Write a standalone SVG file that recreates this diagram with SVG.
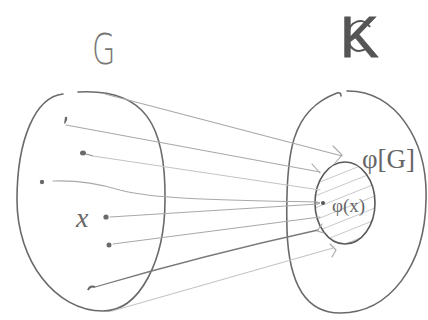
<svg xmlns="http://www.w3.org/2000/svg" width="428" height="320" viewBox="0 0 428 320">
<style>
.set{fill:none;stroke:#6a6a6a;stroke-width:1.6;stroke-linecap:round;stroke-linejoin:round}
.map{fill:none;stroke:#a8a8a8;stroke-width:1.1;stroke-linecap:round;stroke-linejoin:round}
.dark{stroke:#7a7a7a;stroke-width:1.3}
.faint{stroke:#c4c4c4}
.pt{fill:#6a6a6a}
.hand{font-family:"Liberation Serif",serif;fill:#666}
.hatch{stroke:#c8c8c8;stroke-width:1}
</style>
<defs>
<clipPath id="inner"><ellipse cx="345" cy="203" rx="30" ry="41"/></clipPath>
</defs>
<rect width="428" height="320" fill="#fff"/>

<g id="label-G"><text x="0" y="0" transform="translate(92,64) scale(0.72,1)" font-family="DejaVu Sans,sans-serif" font-weight="200" font-size="42" fill="#777">G</text></g>
<g id="label-K"><text x="340" y="57" font-family="Liberation Sans,sans-serif" font-size="58" fill="#555" stroke="#555" stroke-width="0.8">K</text>
<path d="M370,27 C363,16 349,21 348,35 C347,49 358,55 367,48" fill="none" stroke="#555" stroke-width="2"/></g>

<g id="set-G">
<path class="set" d="M78,92 C145,88 166,125 165,200 C165,260 140,311 103,311 C55,311 17,260 17,200 C17,140 35,97 63,94"/>
<path class="pt" d="M65,117 q3,-1 2,3 q-1,3 -3,4 z"/>
<path class="pt" d="M80,153 a3,2.5 0 1 1 6,0 a3,2.5 0 1 1 -6,0 z"/>
<path d="M86,154 L93,156" stroke="#888" stroke-width="1"/>
<circle class="pt" cx="42" cy="182" r="2.2"/>
<text class="hand" x="76" y="227" font-style="italic" font-size="28">x</text>
<circle class="pt" cx="106" cy="217" r="2.6"/>
<circle class="pt" cx="109" cy="245" r="2.5"/>
<path d="M88,290 q2,-5 7,-3" fill="none" stroke="#666" stroke-width="2"/>
</g>

<g id="set-K">
<path class="set" d="M347,91 C395,90 428,140 426,200 C425,265 390,313 340,313 C310,313 289,290 287,230 C285,150 292,110 337,93 q4,-1 4,3"/>
</g>

<g id="image-G">
<g clip-path="url(#inner)">
<path class="hatch" d="M300,190 L400,150 M300,202 L400,162 M300,214 L400,174 M300,226 L400,186 M300,238 L400,198 M300,250 L400,210 M300,262 L400,222 M300,274 L400,234 M300,286 L400,246"/>
</g>
<ellipse cx="345" cy="203" rx="30" ry="41" fill="none" stroke="#5a5a5a" stroke-width="1.6"/>
<text class="hand" x="362" y="168" font-size="27" fill="#555">φ[G]</text>
<circle cx="323" cy="203" r="2" fill="#555"/>
<path d="M316,203 L320,203" stroke="#666" stroke-width="1"/>
<text class="hand" x="332" y="212" font-size="19" fill="#555">φ(x)</text>
</g>

<g id="connectors">
<path class="map" d="M105,94 L342,156"/>
<path class="map" d="M333,146 L342,155 L335,163" stroke="#777"/>
<path class="map" d="M66,125 L320,172"/>
<path class="map" d="M312,164 L320,173" stroke="#888"/>
<path class="map faint" d="M93,156 L320,190"/>
<path class="map" d="M53,181 C80,180 100,184 120,190 C150,198 200,200 318,202"/>
<path class="map" d="M110,217 L318,204"/>
<path class="map" d="M113,244 L320,217"/>
<path class="map dark" d="M95,287 C160,268 250,245 318,230"/>
<path class="map" d="M322,224 L317,231 L324,233" stroke="#777"/>
<path class="map faint" d="M112,311 L333,248"/>
<path class="map" d="M330,244 L336,250 L332,257" stroke="#777"/>
</g>
</svg>
